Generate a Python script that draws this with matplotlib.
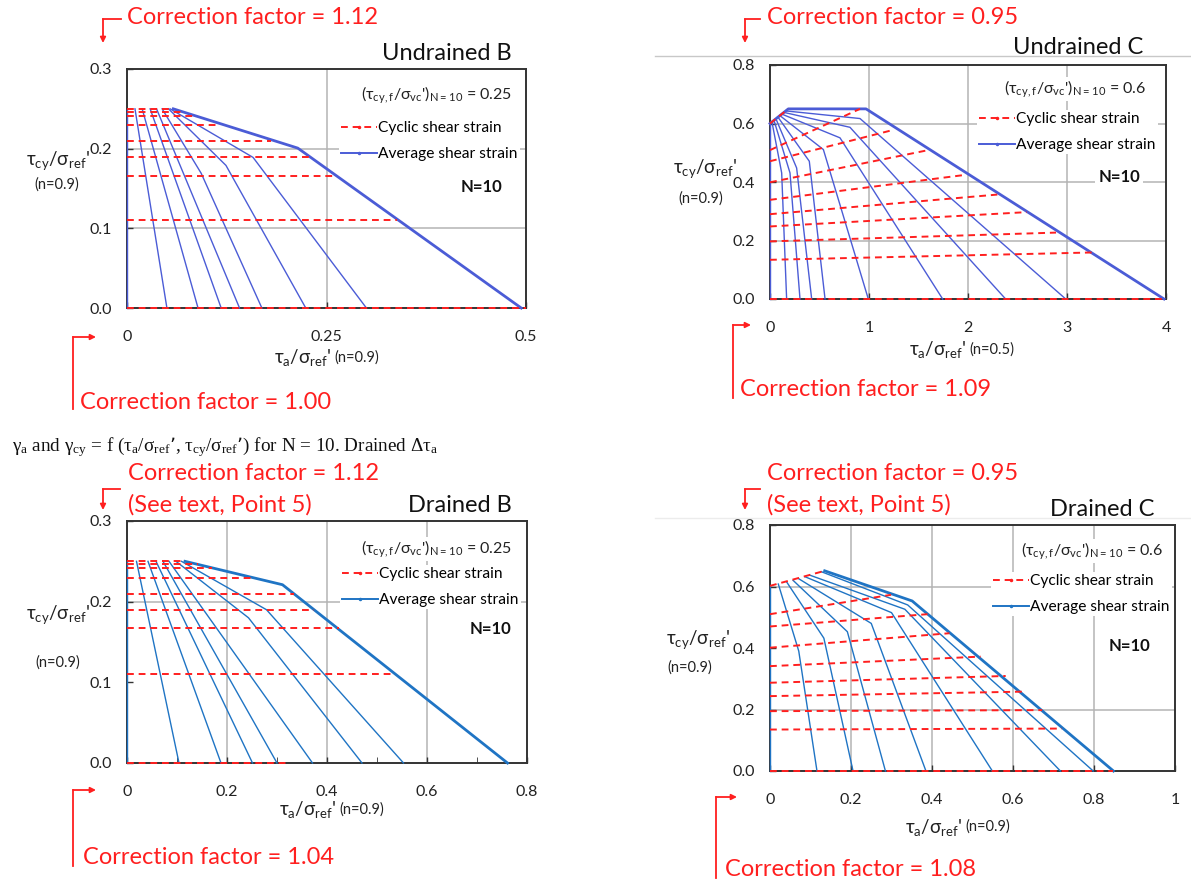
import matplotlib
matplotlib.use("Agg")
import matplotlib.pyplot as plt
from matplotlib.lines import Line2D
from matplotlib.patches import FancyArrowPatch

plt.rcParams['font.family'] = ['Lato', 'DejaVu Sans']
plt.rcParams['mathtext.default'] = 'regular'

# === DATA ===
# Undrained B : average shear strain contours (polylines)
ub_avg_x = [[0, 0], [0.010, 0.050], [0.019, 0.089], [0.029, 0.118], [0.037, 0.141],
            [0.044, 0.093, 0.169], [0.052, 0.124, 0.224], [0.054, 0.158, 0.300],
            [0.058, 0.214, 0.494]]
ub_avg_y = [[0.25, 0], [0.25, 0], [0.25, 0], [0.25, 0], [0.25, 0],
            [0.25, 0.169, 0], [0.25, 0.179, 0], [0.25, 0.189, 0],
            [0.25, 0.2007, 0]]
# cyclic shear strain contours (horizontal)
ub_cyc_y = [0.25, 0.2454, 0.2412, 0.2296, 0.2094, 0.1894, 0.166, 0.1108, 0.0]
ub_cyc_xend = [0.058, 0.070, 0.084, 0.116, 0.181, 0.228, 0.260, 0.338, 0.5]

# Undrained C
uc_avg_x = [[0, 0], [0.02, 0.118, 0.168], [0.04, 0.202, 0.303], [0.06, 0.269, 0.421],
            [0.08, 0.397, 0.556], [0.10, 0.539, 0.993], [0.12, 0.707, 1.744],
            [0.14, 0.808, 2.380], [0.16, 0.909, 2.987], [0, 0.185, 0.97, 3.98]]
uc_avg_y = [[0.6, 0], [0.605, 0.431, 0], [0.611, 0.431, 0], [0.616, 0.448, 0],
            [0.622, 0.471, 0], [0.627, 0.511, 0], [0.632, 0.551, 0],
            [0.638, 0.587, 0], [0.643, 0.617, 0], [0.6, 0.65, 0.65, 0]]
uc_cyc_y0 = [0.6, 0.509, 0.471, 0.399, 0.339, 0.290, 0.248, 0.197, 0.134, 0.0]
uc_cyc_x1 = [0.185, 0.909, 1.256, 1.599, 1.987, 2.296, 2.593, 2.889, 3.249, 3.98]
uc_cyc_y1 = [0.65, 0.65, 0.579, 0.509, 0.425, 0.357, 0.297, 0.227, 0.159, 0.0]

# Drained B
db_avg_x = [[0, 0], [0.019, 0.104], [0.042, 0.188], [0.058, 0.251], [0.072, 0.300],
            [0.084, 0.371], [0.098, 0.243, 0.470], [0.109, 0.279, 0.553],
            [0.116, 0.311, 0.761]]
db_avg_y = [[0.25, 0], [0.25, 0], [0.25, 0], [0.25, 0], [0.25, 0], [0.25, 0],
            [0.25, 0.180, 0], [0.25, 0.190, 0], [0.25, 0.221, 0]]
db_cyc_y = [0.2505, 0.2464, 0.2422, 0.2298, 0.2099, 0.1896, 0.1669, 0.1106, 0.0]
db_cyc_xend = [0.116, 0.142, 0.170, 0.253, 0.333, 0.373, 0.423, 0.534, 0.325]

# Drained C
dc_avg_x = [[0, 0], [0.0205, 0.071, 0.116], [0.041, 0.133, 0.205], [0.057, 0.191, 0.285],
            [0.070, 0.250, 0.385], [0.086, 0.300, 0.549], [0.098, 0.333, 0.717],
            [0.127, 0.340, 0.798], [0.135, 0.351, 0.848]]
dc_avg_y = [[0.602, 0], [0.608, 0.390, 0], [0.615, 0.432, 0], [0.620, 0.453, 0],
            [0.626, 0.480, 0], [0.632, 0.515, 0], [0.637, 0.526, 0],
            [0.648, 0.540, 0], [0.651, 0.553, 0]]
dc_cyc_y0 = [0.602, 0.510, 0.470, 0.401, 0.341, 0.287, 0.2435, 0.1946, 0.1348, 0.0]
dc_cyc_x1 = [0.135, 0.299, 0.389, 0.443, 0.520, 0.582, 0.623, 0.672, 0.721, 0.848]
dc_cyc_y1 = [0.651, 0.573, 0.510, 0.448, 0.372, 0.309, 0.258, 0.198, 0.138, 0.0]

# === STYLE ===
W, H = 1191, 884
RED = '#ff1f1f'
BLUE_U = '#4b5cd6'
BLUE_D = '#1f74c4'
GRID = '#b4b4b4'
RED_FS = 17
TITLE_FS = 17

fig = plt.figure(figsize=(W / 100, H / 100), dpi=100)


def fx(x):
    return x / W


def fy(y):
    return 1 - y / H


def make_axes(left, top, right, bottom):
    return fig.add_axes([fx(left), fy(bottom), (right - left) / W, (bottom - top) / H])


def red_line(p0, p1):
    fig.add_artist(Line2D([fx(p0[0]), fx(p1[0])], [fy(p0[1]), fy(p1[1])],
                          color=RED, lw=1.3, transform=fig.transFigure))


def red_arrow(p0, p1):
    fig.add_artist(FancyArrowPatch((fx(p0[0]), fy(p0[1])), (fx(p1[0]), fy(p1[1])),
                                   arrowstyle='-|>', mutation_scale=8, color=RED, lw=1.3,
                                   shrinkA=0, shrinkB=0, transform=fig.transFigure))


def panel(ax, avg_x, avg_y, cx0, cy0, cx1, cy1, blue, xlim, ylim,
          xticks, xlabels, yticks, ylabels, xgrid, ygrid):
    for g in xgrid:
        ax.axvline(g, color=GRID, lw=1.1, zorder=0)
    for g in ygrid:
        ax.axhline(g, color=GRID, lw=1.1, zorder=0)
    n = len(avg_x)
    for i, (xs, ys) in enumerate(zip(avg_x, avg_y)):
        ax.plot(xs, ys, color=blue, lw=2.0 if i == n - 1 else 1.0, zorder=3,
                clip_on=False)
    for a, b, c, d in zip(cx0, cy0, cx1, cy1):
        ax.plot([a, c], [b, d], color=RED, lw=1.4, ls=(0, (3.5, 2.5)), zorder=4,
                clip_on=False)
    ax.set_xlim(*xlim)
    ax.set_ylim(*ylim)
    ax.set_xticks(xticks)
    ax.set_xticklabels(xlabels)
    ax.set_yticks(yticks)
    ax.set_yticklabels(ylabels)
    ax.tick_params(direction='in', length=4, width=1, color='#333333',
                   labelsize=11.5, labelcolor='#222222')
    ax.tick_params(axis='x', pad=16)
    ax.tick_params(axis='y', pad=11)
    for s in ax.spines.values():
        s.set_color('#333333')
        s.set_linewidth(1.4)
    ax.set_facecolor('white')


def legend_block(ax, blue, ratio, ratio_xy, leg_xy, n_xy):
    fig.text(fx(ratio_xy[0]), fy(ratio_xy[1]), ratio, ha='right', va='center',
             fontsize=11.5, color='#222222', zorder=6,
             bbox=dict(facecolor='white', edgecolor='none', pad=1))
    handles = [Line2D([], [], color=RED, lw=1.4, ls=(0, (3.5, 2.5)), marker='.', ms=3),
               Line2D([], [], color=blue, lw=1.4, marker='.', ms=3)]
    ax.legend(handles, ['Cyclic shear strain', 'Average shear strain'],
              loc='upper right', bbox_to_anchor=(fx(leg_xy[0]), fy(leg_xy[1])),
              bbox_transform=fig.transFigure, fontsize=11.2, frameon=True,
              fancybox=False, facecolor='white', edgecolor='none', framealpha=1,
              handlelength=2.3, handletextpad=0.1, borderpad=0.15,
              labelspacing=0.75, borderaxespad=0)
    fig.text(fx(n_xy[0]), fy(n_xy[1]), 'N=10', ha='right', va='center',
             fontsize=12, fontweight='bold', color='#111111',
             bbox=dict(facecolor='white', edgecolor='none', pad=2))


def axis_labels(ycenter, nxy, xlab_xy, nval):
    fig.text(fx(ycenter[0]), fy(ycenter[1]), "τ$_{cy}$/σ$_{ref}$'", ha='center',
             va='center', fontsize=13.5, color='#222222')
    fig.text(fx(nxy[0]), fy(nxy[1]), '(n=0.9)', ha='center', va='center',
             fontsize=10.5, color='#222222')
    fig.text(fx(xlab_xy[0]), fy(xlab_xy[1]), "τ$_{a}$/σ$_{ref}$'", ha='right',
             va='center', fontsize=13.5, color='#222222')
    fig.text(fx(xlab_xy[0] + 3), fy(xlab_xy[1]), f'(n={nval})', ha='left',
             va='center', fontsize=10.5, color='#222222')


ratio_b = "(τ$_{cy,f}$/σ$_{vc}$')$_{N=10}$ = 0.25"
ratio_c = "(τ$_{cy,f}$/σ$_{vc}$')$_{N=10}$ = 0.6"

# --- Undrained B ---
ax1 = make_axes(127, 69, 526, 308)
panel(ax1, ub_avg_x, ub_avg_y, [0] * len(ub_cyc_y), ub_cyc_y, ub_cyc_xend, ub_cyc_y,
      BLUE_U, (0, 0.5), (0, 0.3), [0, 0.25, 0.5], ['0', '0.25', '0.5'],
      [0, 0.1, 0.2, 0.3], ['0.0', '0.1', '0.2', '0.3'], [0.25], [0.1, 0.2])
legend_block(ax1, BLUE_U, ratio_b, (512, 95), (520, 119), (502, 187))
fig.text(fx(512), fy(53), 'Undrained B', ha='right', va='center', fontsize=TITLE_FS,
         color='#111111')
axis_labels((58, 161), (57, 185), (331, 358), '0.9')
fig.text(fx(127), fy(18), 'Correction factor = 1.12', ha='left', va='center',
         fontsize=RED_FS, color=RED)
red_line((121, 19), (103, 19))
red_arrow((103, 19), (103, 43))
fig.text(fx(80), fy(403), 'Correction factor = 1.00', ha='left', va='center',
         fontsize=RED_FS, color=RED)
red_line((73, 409), (73, 337))
red_arrow((73, 337), (96, 337))

# --- Undrained C ---
fig.add_artist(Line2D([fx(655), fx(1190)], [fy(56), fy(56)], color='#c8c8c8', lw=1,
                      transform=fig.transFigure))
ax2 = make_axes(770, 65, 1166, 299)
panel(ax2, uc_avg_x, uc_avg_y, [0] * len(uc_cyc_y0), uc_cyc_y0, uc_cyc_x1, uc_cyc_y1,
      BLUE_U, (0, 4), (0, 0.8), [0, 1, 2, 3, 4], ['0', '1', '2', '3', '4'],
      [0, 0.2, 0.4, 0.6, 0.8], ['0.0', '0.2', '0.4', '0.6', '0.8'], [1, 2, 3],
      [0.2, 0.4, 0.6])
legend_block(ax2, BLUE_U, ratio_c, (1146, 89), (1158, 110), (1140, 177))
fig.text(fx(1143), fy(47), 'Undrained C', ha='right', va='center', fontsize=TITLE_FS,
         color='#111111')
axis_labels((705, 169), (701, 199), (966, 350), '0.5')
fig.text(fx(767), fy(18), 'Correction factor = 0.95', ha='left', va='center',
         fontsize=RED_FS, color=RED)
red_line((760, 19), (745, 19))
red_arrow((745, 19), (745, 43))
fig.text(fx(740), fy(390), 'Correction factor = 1.09', ha='left', va='center',
         fontsize=RED_FS, color=RED)
red_line((733, 398), (733, 325))
red_arrow((733, 325), (751, 325))

# --- caption ---
fig.text(fx(12), fy(447),
         "γ$_a$ and γ$_{cy}$ = f (τ$_a$/σ$_{ref}$’, τ$_{cy}$/σ$_{ref}$’) for N = 10. Drained Δτ$_a$",
         ha='left', va='center', fontsize=13.8, family=['Liberation Serif', 'DejaVu Serif'],
         color='#111111')

# --- Drained B ---
ax3 = make_axes(127, 521, 527, 763)
panel(ax3, db_avg_x, db_avg_y, [0] * len(db_cyc_y), db_cyc_y, db_cyc_xend, db_cyc_y,
      BLUE_D, (0, 0.8), (0, 0.3), [0, 0.2, 0.4, 0.6, 0.8],
      ['0', '0.2', '0.4', '0.6', '0.8'], [0, 0.1, 0.2, 0.3],
      ['0.0', '0.1', '0.2', '0.3'], [0.2, 0.4, 0.6], [0.2])
ax3.set_xticks([0.1, 0.3, 0.5, 0.7], minor=True)
ax3.tick_params(which='minor', direction='in', length=4, color='#333333')
legend_block(ax3, BLUE_D, ratio_b, (512, 549), (521, 565), (511, 629))
fig.text(fx(512), fy(505), 'Drained B', ha='right', va='center', fontsize=TITLE_FS,
         color='#111111')
axis_labels((58, 615), (58, 663), (336, 810), '0.9')
fig.text(fx(128), fy(474), 'Correction factor = 1.12', ha='left', va='center',
         fontsize=RED_FS, color=RED)
fig.text(fx(128), fy(505), '(See text, Point 5)', ha='left', va='center',
         fontsize=RED_FS, color=RED)
red_line((120, 489), (103, 489))
red_arrow((103, 489), (103, 510))
fig.text(fx(83), fy(858), 'Correction factor = 1.04', ha='left', va='center',
         fontsize=RED_FS, color=RED)
red_line((73, 866), (73, 790))
red_arrow((73, 790), (96, 790))

# --- Drained C ---
fig.add_artist(Line2D([fx(655), fx(1190)], [fy(518), fy(518)], color='#ececec', lw=1,
                      transform=fig.transFigure))
ax4 = make_axes(770, 525, 1175, 771)
panel(ax4, dc_avg_x, dc_avg_y, [0] * len(dc_cyc_y0), dc_cyc_y0, dc_cyc_x1, dc_cyc_y1,
      BLUE_D, (0, 1), (0, 0.8), [0, 0.2, 0.4, 0.6, 0.8, 1.0],
      ['0', '0.2', '0.4', '0.6', '0.8', '1'], [0, 0.2, 0.4, 0.6, 0.8],
      ['0.0', '0.2', '0.4', '0.6', '0.8'], [0.2, 0.4, 0.6, 0.8], [0.2, 0.6])
legend_block(ax4, BLUE_D, ratio_c, (1163, 551), (1172, 572), (1150, 646))
fig.text(fx(1155), fy(510), 'Drained C', ha='right', va='center', fontsize=TITLE_FS,
         color='#111111')
axis_labels((698, 640), (690, 668), (962, 827), '0.9')
fig.text(fx(767), fy(474), 'Correction factor = 0.95', ha='left', va='center',
         fontsize=RED_FS, color=RED)
fig.text(fx(767), fy(505), '(See text, Point 5)', ha='left', va='center',
         fontsize=RED_FS, color=RED)
red_line((760, 489), (745, 489))
red_arrow((745, 489), (745, 510))
fig.text(fx(725), fy(870), 'Correction factor = 1.08', ha='left', va='center',
         fontsize=RED_FS, color=RED)
red_line((716, 878), (716, 797))
red_arrow((716, 797), (737, 797))

fig.savefig('out.png', dpi=100)
